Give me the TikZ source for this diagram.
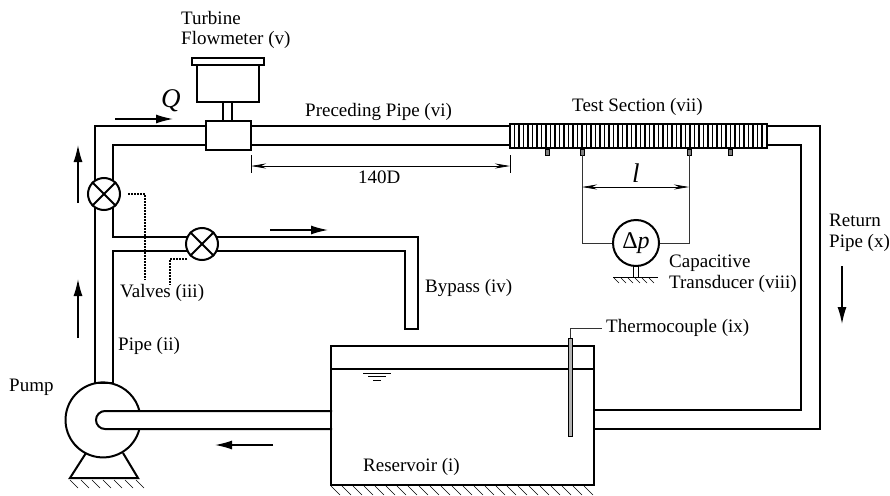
\documentclass[tikz,border=0pt]{standalone}
\usepackage{fontspec}
\setmainfont{Liberation Serif}
\usetikzlibrary{arrows.meta}
\begin{document}
\begin{tikzpicture}[
    x=1pt, y=-1pt,
    pipe/.style={line width=2pt, line join=miter},
    part/.style={draw, line width=2pt, fill=white, inner sep=0pt},
    valve/.style={part, circle, minimum size=32pt},
    lbl/.style={anchor=west, inner sep=0pt, font=\fontsize{19}{21}\selectfont},
    flow/.style={-{Latex[length=17pt,width=9pt]}, line width=1.4pt},
    dimline/.style={{Stealth[length=15pt,width=5pt]}-{Stealth[length=15pt,width=5pt]}, line width=0.7pt},
    thin line/.style={line width=0.8pt, black!80},
    leader/.style={line width=1.4pt, dash pattern=on 2pt off 1pt},
    hatch/.style={line width=0.6pt}
]
    \useasboundingbox (0,0) rectangle (890,495);

    % 1. Pipes
    \draw[pipe] (332,411) -- (105,411) arc[start angle=270, end angle=90, radius=9] -- (332,429);
    \draw[pipe] (95,383) -- (95,126) -- (510,126);
    \draw[pipe] (113,383) -- (113,251) -- (405,251) -- (405,329) -- (418,329) -- (418,237) -- (113,237) -- (113,145) -- (510,145);
    \draw[pipe] (767,126) -- (820,126) -- (820,429) -- (594,429);
    \draw[pipe] (767,145) -- (801,145) -- (801,410) -- (594,410);

    % 2. Pump on its stand
    \draw[part, fill=none] (86,453) -- (70,478) -- (138,478) -- (123,453);
    \draw[pipe] (95,383) -- (113,383);
    \draw[pipe] (139.4,429) arc[start angle=14, end angle=346, radius=37.5];
    \foreach \hx in {70,81,...,136}
        \draw[hatch] (\hx,480) -- ++(8,8);

    % 3. Reservoir
    \draw[pipe] (331,346) rectangle (594,485);
    \draw[pipe] (331,369) -- (594,369);
    \foreach \hx in {331,342,...,590}
        \draw[hatch] (\hx,486) -- ++(9,9);
    \draw[line width=0.8pt] (363,373) -- (391,373);
    \draw[line width=0.8pt] (368,376.5) -- (386,376.5);
    \draw[line width=0.8pt] (373,380) -- (381,380);
    \draw[line width=0.8pt, fill=gray!60] (568,338) rectangle (572,436);
    \draw[thin line] (570,338) |- (602,328);

    % 4. Flowmeter
    \node[part, minimum width=45pt, minimum height=29pt] (meter) at (228.5,135.5) {};
    \draw[line width=1.4pt] (223,102) -- (223,121);
    \draw[line width=1.4pt] (232,102) -- (232,121);
    \node[part, minimum width=62pt, minimum height=37pt] (body) at (228,83.5) {};
    \node[part, minimum width=72pt, minimum height=7pt] (cap) at (228,61.5) {};

    % 5. Test section
    \node[part, minimum width=257pt, minimum height=24pt] (test) at (638.5,136) {};
    \foreach \fx in {514.5,519,...,765}
        \draw[line width=1.4pt] (\fx,124) -- (\fx,148);
    \foreach \tx in {547,582,689,730}
        \draw[line width=0.7pt, fill=gray] (\tx-2,149) rectangle (\tx+2,155);

    % 6. Valves
    \node[valve] (vlvA) at (104,194) {};
    \draw[line width=2pt] (vlvA.45) -- (vlvA.225);
    \draw[line width=2pt] (vlvA.135) -- (vlvA.315);
    \node[valve] (vlvB) at (202,244) {};
    \draw[line width=2pt] (vlvB.45) -- (vlvB.225);
    \draw[line width=2pt] (vlvB.135) -- (vlvB.315);
    \draw[leader] (128,194) -- (145,194) -- (145,280);
    \draw[leader] (187,259) -- (170,259) -- (170,285);

    % 7. Transducer
    \node[part, circle, minimum size=46pt, font=\fontsize{24}{26}\selectfont] (dp) at (636,243) {Δ\textit{p}};
    \draw[thin line] (582,155) |- (dp.west);
    \draw[thin line] (689,155) |- (dp.east);
    \draw[line width=1.1pt] (633.5,266) -- (633.5,277);
    \draw[line width=1.1pt] (638.5,266) -- (638.5,277);
    \draw[line width=1.4pt] (613,277.5) -- (658,277.5);
    \foreach \hx in {614,621,...,652}
        \draw[hatch] (\hx,278) -- ++(5,5);

    % 8. Dimensions
    \draw[line width=0.7pt] (251,155) -- (251,173);
    \draw[line width=0.7pt] (510,155) -- (510,173);
    \draw[dimline] (251,166) -- (510,166);
    \draw[dimline] (582,187) -- (689,187);

    % 9. Flow arrows
    \draw[flow] (115,119) -- (173,119);
    \draw[flow] (78,203) -- (78,145);
    \draw[flow] (78,338) -- (78,279);
    \draw[flow] (270,230) -- (328,230);
    \draw[flow] (273,445) -- (215,445);
    \draw[flow] (842,266) -- (842,324);

    % 10. Labels
    \node[lbl] (turbine) at (181,18) {Turbine};
    \node[lbl] (flowm) at (181,40) {Flowmeter (v)};
    \node[lbl, font=\fontsize{27}{29}\selectfont\itshape] (qlab) at (161,101) {Q};
    \node[lbl] (prec) at (305,112) {Preceding Pipe (vi)};
    \node[lbl] (testlab) at (572,107) {Test Section (vii)};
    \node[lbl] (lenD) at (358,177) {140D};
    \node[lbl, font=\fontsize{27}{29}\selectfont\itshape] (lenl) at (632,173) {l};
    \node[lbl] (capa) at (669,263) {Capacitive};
    \node[lbl] (trans) at (669,284) {Transducer (viii)};
    \node[lbl] (ret) at (829,220) {Return};
    \node[lbl] (retp) at (829,243) {Pipe (x)};
    \node[lbl] (bypass) at (425,288) {Bypass (iv)};
    \node[lbl] (valves) at (120,293) {Valves (iii)};
    \node[lbl] (pipe2) at (118,346) {Pipe (ii)};
    \node[lbl] (pump) at (9,387) {Pump};
    \node[lbl] (reserv) at (363,467) {Reservoir (i)};
    \node[lbl] (thermo) at (606,328) {Thermocouple (ix)};
\end{tikzpicture}
\end{document}
